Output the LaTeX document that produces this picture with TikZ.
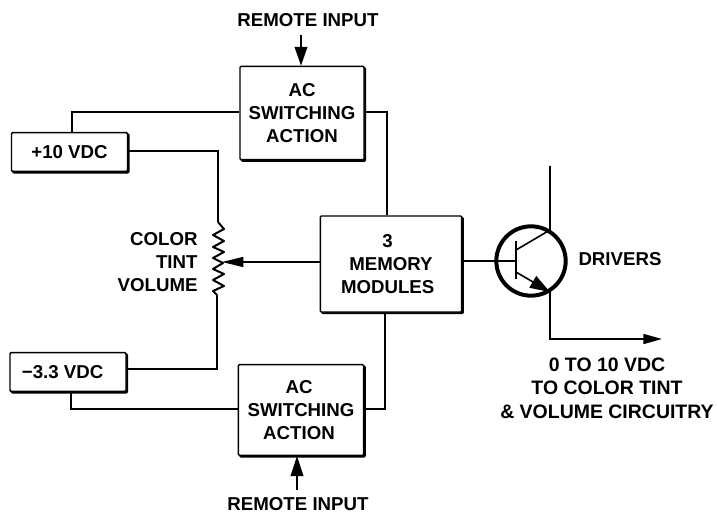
\documentclass[tikz,border=0pt]{standalone}
\usepackage{fontspec}
\setmainfont{Liberation Sans}
\usetikzlibrary{arrows.meta,shadows}
\tikzset{every picture/.style={line width=0.75pt}}
\tikzset{
  blockbox/.style={draw,fill=white,line width=1.1pt,rounded corners=0.8pt,align=center,inner sep=0pt,
    copy shadow={shadow xshift=1.1pt,shadow yshift=-1.1pt,draw=black,fill=black},
    font=\fontsize{14}{17.5}\selectfont\bfseries},
  wire/.style={line width=1.2pt},
  lettering/.style={inner sep=0pt,align=center,font=\fontsize{14}{17.5}\selectfont\bfseries},
  feed/.style={wire,-{Triangle[length=15pt,width=9.5pt]}}
}
\begin{document}
\begin{tikzpicture}[x=0.75pt,y=0.75pt,yscale=-1,xscale=1]
    \useasboundingbox (0,0) rectangle (717,513);
    % Blocks
    \node [blockbox,minimum width=93pt,minimum height=70pt] (acTop) at (302,113) {AC\\SWITCHING\\ACTION};
    \node [blockbox,minimum width=94pt,minimum height=68pt] (acBot) at (301,410) {AC\hspace*{3pt}\\SWITCHING\hspace*{3pt}\\ACTION\hspace*{3pt}};
    \node [blockbox,minimum width=106pt,minimum height=72pt] (mem) at (391,264) {3\hspace*{5pt}\\MEMORY\hspace*{5pt}\\MODULES\hspace*{5pt}};
    \node [blockbox,minimum width=87pt,minimum height=29pt] (plus) at (69.5,152) {+10 VDC};
    \node [blockbox,minimum width=87pt,minimum height=29pt] (minus) at (68,372) {−3.3 VDC\hspace*{8pt}};
    % Transistor
    \node [circle,draw,line width=3pt,minimum size=52pt,inner sep=0pt] (drv) at (531,261) {};
    \coordinate (baseT) at (516,241);
    \coordinate (baseB) at (516,279);
    \coordinate (colIn) at (516,250);
    \coordinate (colOut) at (550,230);
    \coordinate (colEnd) at (550,166);
    \coordinate (emIn) at (516,272);
    \coordinate (emOut) at (550,292);
    \coordinate (outCor) at (550,339);
    \coordinate (outEnd) at (662,339);
    \draw [line width=2.2pt] (baseT) -- (baseB);
    \draw [wire] (mem.east |- drv) -- (516,261);
    \draw [wire] (colIn) -- (colOut) -- (colEnd);
    \draw [wire,-{Triangle[length=15pt,width=10pt]}] (emIn) -- (emOut);
    \draw [wire,-{Triangle[length=14pt,width=7.5pt]}] (emOut) -- (outCor) -- (outEnd);
    % Potentiometer
    \coordinate (potT) at (218,222);
    \coordinate (potB) at (217,295);
    \coordinate (wiper) at (222,262);
    \draw [wire,line width=1.5pt,line join=round] (potT) -- (224,229) -- (213,235) -- (224,241) -- (213,247) -- (224,252) -- (213,258) -- (223,263) -- (213,269) -- (224,274) -- (213,280) -- (224,286) -- (213,291) -- (potB);
    \draw [wire,-{Triangle[length=16pt,width=7.5pt]}] (mem.west |- wiper) -- (wiper);
    % Wiring
    \draw [wire] (plus.east |- 0,151) -- (218,151) -- (potT);
    \draw [wire] (minus.east |- 0,369) -- (217,369) -- (potB);
    \draw [wire] (plus.north -| 72,0) -- (72,112) -- (acTop.west |- 0,112);
    \draw [wire] (minus.south -| 71,0) -- (71,409) -- (acBot.west |- 0,409);
    \draw [wire] (acTop.east |- 0,112) -- (387,112) -- (mem.north -| 387,0);
    \draw [wire] (acBot.east |- 0,409) -- (385,409) -- (mem.south -| 385,0);
    % Remote inputs
    \node [lettering] (remTop) at (308,20) {REMOTE INPUT};
    \node [lettering] (remBot) at (298,504) {REMOTE INPUT};
    \draw [wire,-{Triangle[length=14pt,width=9.5pt]}] (301,35) -- (acTop.north -| 301,0);
    \draw [feed] (297,490) -- (acBot.south -| 297,0);
    % Labels
    \node [lettering,align=right,anchor=east] (pot) at (198,262) {COLOR\\TINT\\VOLUME};
    \node [lettering] (drvLbl) at (620,259) {DRIVERS};
    \node [lettering,font=\fontsize{14.6}{17.6}\selectfont\bfseries] (outLbl) at (607,388) {0 TO 10 VDC\\TO COLOR TINT\\\& VOLUME CIRCUITRY};
\end{tikzpicture}
\end{document}
